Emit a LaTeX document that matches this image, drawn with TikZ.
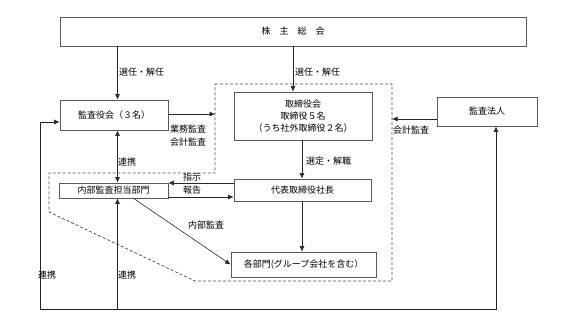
\documentclass[tikz,border=0pt]{standalone}
\usepackage{fontspec}
\setmainfont{Noto Sans CJK JP}
\usetikzlibrary{arrows.meta,calc}
\begin{document}
\begin{tikzpicture}[x=1pt,y=-1pt,
  box/.style={draw=black!65, line width=0.9pt, rectangle, inner sep=0pt,
    font=\fontsize{9}{12}\selectfont, align=center},
  lbl/.style={font=\fontsize{9}{11}\selectfont, inner sep=0pt},
  arr/.style={draw=black!85, line width=0.6pt, -{Latex[length=5.5pt,width=5pt]}},
  darr/.style={draw=black!85, line width=0.6pt, {Latex[length=5.5pt,width=5pt]}-{Latex[length=5.5pt,width=5pt]}},
  ln/.style={draw=black!85, line width=0.6pt},
  dsh/.style={draw=black!70, line width=0.7pt, dash pattern=on 3pt off 2pt}]
\useasboundingbox (0,0) rectangle (567,324);

% dashed region
\draw[dsh] (215,84) -- (392,84) -- (392,281) -- (195,281) -- (49,212) -- (49,173) -- (215,173) -- cycle;

% boxes
\node[box, minimum width=466pt, minimum height=29pt] (top) at (293,31.5) {株　主　総　会};
\node[box, minimum width=108pt, minimum height=30pt] (aud) at (114,115) {監査役会（３名）};
\node[box, minimum width=138pt, minimum height=48pt] (dir) at (303,116) {取締役会\\取締役５名\\（うち社外取締役２名）};
\node[box, minimum width=100pt, minimum height=29pt] (firm) at (487,111.5) {監査法人};
\node[box, minimum width=109pt, minimum height=15pt] (ia) at (113.5,190.5) {内部監査担当部門};
\node[box, minimum width=137pt, minimum height=22pt] (rep) at (302.5,190) {代表取締役社長};
\node[box, minimum width=145pt, minimum height=25pt] (dept) at (303.5,264.5) {各部門(グループ会社を含む）};

% helper coordinates
\coordinate (cx) at (117.5,0);
\coordinate (mx) at (293,0);
\coordinate (dx) at (302,0);
\coordinate (fx) at (496,0);
\coordinate (lx) at (40,0);
\coordinate (by) at (0,309);
\coordinate (dl) at (215,114);
\coordinate (dr) at (392,119);
\coordinate (ay) at (0,122);
\coordinate (ia1) at (133,198);

% connectors
\draw[arr] (cx |- top.south) -- (cx |- aud.north);
\node[lbl, anchor=west] at (119,72) {選任・解任};
\draw[arr] (mx |- top.south) -- (mx |- dir.north);
\node[lbl, anchor=west] at (295,72) {選任・解任};

\draw[arr] (aud.east |- dl) -- (dl);
\node[lbl, anchor=west] at (170,129) {業務監査};
\node[lbl, anchor=west] at (170,142) {会計監査};

\draw[arr] (firm.west |- dr) -- (dr);
\node[lbl, anchor=west] at (393,130) {会計監査};

\draw[darr] (cx |- aud.south) -- (cx |- ia.north);
\node[lbl, anchor=west] at (118,162) {連携};

\draw[arr] (dx |- dir.south) -- (dx |- rep.north);
\node[lbl, anchor=west] at (306,161) {選定・解職};

\draw[arr] (rep.west |- 0,183) -- (ia.east |- 0,183);
\node[lbl] at (192,177) {指示};
\draw[arr] (ia.east |- 0,197) -- (rep.west |- 0,197);
\node[lbl] at (192,190.5) {報告};

\draw[arr] (dx |- rep.south) -- (dx |- dept.north);

\draw[arr] (ia1) -- (dept.west);
\node[lbl] at (206,225) {内部監査};

% bottom liaison lines
\draw[arr] (cx |- by) -- (fx |- by) -- (fx |- firm.south);
\draw[arr] (cx |- by) -- (cx |- ia.south);
\draw[arr] (cx |- by) -- (lx |- by) -- (lx |- ay) -- (aud.west |- ay);
\node[lbl, anchor=west] at (38,275) {連携};
\node[lbl, anchor=west] at (118,275) {連携};
\end{tikzpicture}
\end{document}
